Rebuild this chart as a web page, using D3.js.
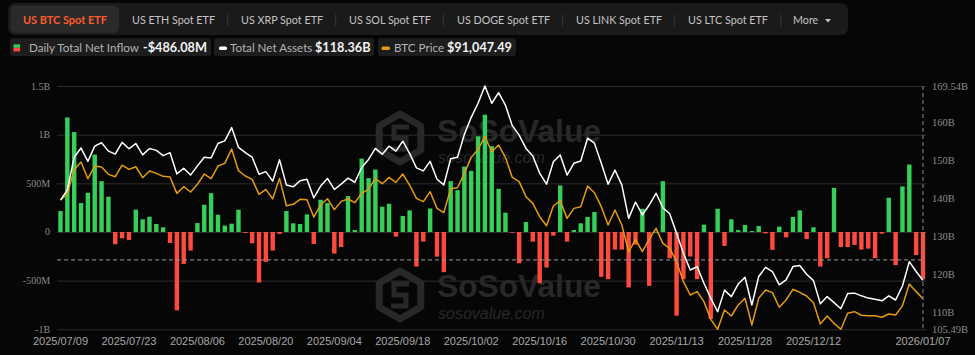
<!DOCTYPE html>
<html><head><meta charset="utf-8">
<script src="https://cdn.jsdelivr.net/npm/d3@7"></script>
<style>
html,body{margin:0;padding:0;background:#060606;}
svg{display:block;}
</style></head>
<body>
<svg id="c" width="975" height="355"></svg>
<script>
// ---------- DATA ----------
const dates = [
"2025/07/09","2025/07/10","2025/07/11","2025/07/14","2025/07/15","2025/07/16","2025/07/17","2025/07/18","2025/07/21","2025/07/22","2025/07/23","2025/07/24","2025/07/25","2025/07/28","2025/07/29","2025/07/30","2025/07/31",
"2025/08/01","2025/08/04","2025/08/05","2025/08/06","2025/08/07","2025/08/08","2025/08/11","2025/08/12","2025/08/13","2025/08/14","2025/08/15","2025/08/18","2025/08/19","2025/08/20","2025/08/21","2025/08/22","2025/08/25","2025/08/26","2025/08/27","2025/08/28","2025/08/29",
"2025/09/02","2025/09/03","2025/09/04","2025/09/05","2025/09/08","2025/09/09","2025/09/10","2025/09/11","2025/09/12","2025/09/15","2025/09/16","2025/09/17","2025/09/18","2025/09/19","2025/09/22","2025/09/23","2025/09/24","2025/09/25","2025/09/26","2025/09/29","2025/09/30",
"2025/10/01","2025/10/02","2025/10/03","2025/10/06","2025/10/07","2025/10/08","2025/10/09","2025/10/10","2025/10/13","2025/10/14","2025/10/15","2025/10/16","2025/10/17","2025/10/20","2025/10/21","2025/10/22","2025/10/23","2025/10/24","2025/10/27","2025/10/28","2025/10/29","2025/10/30","2025/10/31",
"2025/11/03","2025/11/04","2025/11/05","2025/11/06","2025/11/07","2025/11/10","2025/11/11","2025/11/12","2025/11/13","2025/11/14","2025/11/17","2025/11/18","2025/11/19","2025/11/20","2025/11/21","2025/11/24","2025/11/25","2025/11/26","2025/11/28",
"2025/12/01","2025/12/02","2025/12/03","2025/12/04","2025/12/05","2025/12/08","2025/12/09","2025/12/10","2025/12/11","2025/12/12","2025/12/15","2025/12/16","2025/12/17","2025/12/18","2025/12/19","2025/12/22","2025/12/23","2025/12/24","2025/12/26","2025/12/29","2025/12/30","2025/12/31",
"2026/01/02","2026/01/05","2026/01/06","2026/01/07"];

// Daily total net inflow, million USD
const netInflow = [
215,1177,1027,297,403,795,522,362,-126,-65,
-82,229,130,157,82,48,-113,-805,-328,-191,
92,280,399,177,65,85,229,-10,-116,-519,
-307,-191,-20,215,89,82,181,-123,331,297,
-222,-154,369,20,754,553,642,259,290,-48,
164,222,-355,-99,242,-253,-413,522,430,672,
628,983,1205,881,444,198,-7,-321,102,-99,
-526,-365,-38,478,-99,20,89,154,205,-461,
-485,-181,-181,-570,-130,239,-553,1,522,-270,
-860,-485,-252,-485,75,-894,239,-143,130,20,
72,10,61,-14,-184,55,-55,154,222,-72,
48,-355,-270,454,-154,-154,-133,-181,-171,-270,
-17,352,-341,468,693,-236,-486.08];

// Total net assets, billion USD
const netAssets = [
139.5,142.2,150.8,153.2,149.7,153.7,154.6,152.4,151.6,154.7,
153.0,154.4,151.4,153.1,152.6,151.2,152.0,146.4,147.9,146.1,
148.5,150.8,150.6,154.4,155.1,158.6,153.4,152.0,150.8,146.3,
147.0,144.5,150.1,143.5,143.0,144.6,145.0,140.1,143.2,145.2,
142.3,143.7,145.3,144.2,148.1,150.2,153.1,151.6,153.7,152.4,
155.0,151.8,148.0,147.2,149.7,145.0,143.5,150.4,150.8,156.8,
161.3,165.0,169.54,165.0,167.8,164.5,159.1,156.6,153.1,151.1,
146.6,143.7,149.6,151.4,146.1,149.2,149.8,155.8,154.5,149.2,
143.7,147.4,143.5,134.7,139.0,135.6,138.2,141.3,137.5,135.9,
130.8,125.5,121.1,122.0,117.6,113.7,110.1,115.8,114.1,117.4,
119.2,111.9,119.4,121.8,120.7,117.2,118.5,122.0,122.3,120.0,
118.3,112.2,114.1,112.5,110.9,114.9,115.0,114.3,113.7,113.4,
113.0,114.3,113.2,116.9,123.3,120.7,118.36];

// BTC price, USD
const btcPrice = [
112160,113450,118720,120290,116730,119440,119220,117660,117160,119650,
118720,119290,116940,118370,117870,117230,117080,113590,115020,113880,
115520,117730,116730,119440,120010,123070,118440,117300,116590,113380,
114450,112450,116800,110950,111240,112310,112240,108530,111100,112450,
110100,111880,112380,111590,113590,114520,116730,115660,117010,115940,
117730,115370,112520,111810,113950,110380,109460,114590,114800,117870,
121290,123000,125710,122500,123930,121290,117010,116090,112880,111450,
108600,106670,110880,112020,108240,110380,110740,115160,113730,110740,
106820,110030,106820,101040,103750,101110,103750,106100,102900,101830,
98970,94700,91840,92560,90420,86640,84500,88640,87350,89710,
91130,85430,91130,92910,92340,89210,90770,93060,92410,91630,
90200,85640,87350,85780,84500,87920,88280,87500,87420,87420,
87070,87780,87570,89560,94200,92560,91047.49];

const tabLabels = ["US BTC Spot ETF","US ETH Spot ETF","US XRP Spot ETF","US SOL Spot ETF","US DOGE Spot ETF","US LINK Spot ETF","US LTC Spot ETF","More"];
const leftTicks = [-1000,-500,0,500,1000,1500];
const leftTickLabels = ["-1B","-500M","0","500M","1B","1.5B"];
const rightTicks = [105.49,110,120,130,140,150,160,169.54];
const rightTickLabels = ["105.49B","110B","120B","130B","140B","150B","160B","169.54B"];
const xTickLabels = ["2025/07/09","2025/07/23","2025/08/06","2025/08/20","2025/09/04","2025/09/18","2025/10/02","2025/10/16","2025/10/30","2025/11/13","2025/11/28","2025/12/12","2026/01/07"];
const legendLabels = ["Daily Total Net Inflow","Total Net Assets","BTC Price"];
const legendValues = ["-$486.08M","$118.36B","$91,047.49"];
const crosshairInflow = -287;

// ---------- DRAW ----------
const svg = d3.select("#c");
const L = 57.08, R = 926.42, T = 86, B = 329.3;
const C = {green:"#35d05a", red:"#ff4a3f", white:"#ffffff", orange:"#e49b0f", grid:"#2e2e2e"};
const FONT = "Lato, 'Open Sans', sans-serif";

svg.append("rect").attr("width",975).attr("height",355).attr("fill","#060606");

// fit a font size so that a sample string has a target width
function fitSize(sample, weight, base, target, family){
  const t = svg.append("text").attr("font-family",family||FONT).attr("font-size",base).attr("font-weight",weight).text(sample);
  const w = t.node().getComputedTextLength();
  t.remove();
  return base * target / w;
}

// tab bar
const tabs = svg.append("g");
tabs.append("rect").attr("x",8).attr("y",3).attr("width",840).attr("height",32).attr("rx",7).attr("fill","#1a1a1a");
tabs.append("rect").attr("x",10.5).attr("y",5.5).attr("width",108.5).attr("height",27.5).attr("rx",5).attr("fill","#2a2a2a");
const tabStarts = [23,132,241,349,457,576,688,793];
const seps = [227.7,335.7,443.3,562.7,674.3,781];
seps.forEach(s=>tabs.append("line").attr("x1",s).attr("x2",s).attr("y1",14.5).attr("y2",26).attr("stroke","#383838").attr("stroke-width",1));
const tabFs = fitSize("US ETH Spot ETF",400,12,83);
const tabFsB = fitSize("US BTC Spot ETF",700,12,84);
tabLabels.forEach((t,i)=>{
  tabs.append("text").attr("x",tabStarts[i]).attr("y",20).attr("dy","0.35em")
    .attr("font-family",FONT)
    .attr("font-size",i===0?tabFsB:tabFs).attr("font-weight",i===0?700:400)
    .attr("fill",i===0?"#ff5a2c":"#c4c4c4").text(t);
});
tabs.append("path").attr("d","M825,19 L831,19 L828,22.5 Z").attr("fill","#c4c4c4");

// legend
const lg = svg.append("g").attr("font-family",FONT);
const pills = [[10,201],[214,160],[378,138]];
pills.forEach(p=>lg.append("rect").attr("x",p[0]).attr("y",38.3).attr("width",p[1]).attr("height",17.7).attr("rx",3).attr("fill","#1d1d1d"));
lg.append("rect").attr("x",13.5).attr("y",44.4).attr("width",6.6).attr("height",3.4).attr("fill",C.green);
lg.append("rect").attr("x",13.5).attr("y",47.8).attr("width",6.6).attr("height",3.6).attr("fill",C.red);
lg.append("rect").attr("x",219).attr("y",46.5).attr("width",8).attr("height",3.5).attr("rx",1.5).attr("fill",C.white);
lg.append("rect").attr("x",381.5).attr("y",46.5).attr("width",8.5).attr("height",3.5).attr("rx",1.5).attr("fill",C.orange);
const lx = [29,230,394], vx = [143,315,447];
const lgFs = fitSize(legendLabels[0],400,12,110);
const vFs = fitSize(legendValues[0],700,14,64);
legendLabels.forEach((t,i)=>{
  lg.append("text").attr("x",lx[i]).attr("y",47.5).attr("dy","0.35em").attr("font-size",lgFs).attr("fill","#b3b3b3").text(t);
  lg.append("text").attr("x",vx[i]).attr("y",47.3).attr("dy","0.35em").attr("font-size",vFs).attr("font-weight",700).attr("fill","#f2f2f2").text(legendValues[i]);
});

// scales
const x = d3.scaleBand().domain(dates).range([L,R]);
const bw = x.bandwidth();
const cx = d => x(d) + bw/2;
const yL = d3.scaleLinear().domain([-1000,1500]).range([B,T]);
const yR = d3.scaleLinear().domain([105.49,169.54]).range([B,T]);
const yP = d3.scaleLinear().domain([84500,136566]).range([B,T]);

// grid
svg.append("g").attr("transform",`translate(${L},0)`)
  .call(d3.axisLeft(yL).tickValues(leftTicks).tickSize(-(R-L)).tickFormat(""))
  .call(g=>g.select(".domain").remove())
  .call(g=>g.selectAll("line").attr("stroke",C.grid).attr("stroke-width",1));

// watermark
const WMF = "'Liberation Sans', Arial, sans-serif";
const bigFs = fitSize("SoSoValue",700,30,164,WMF);
function watermark(cyIcon, yBig, ySmall){
  const g = svg.append("g").attr("fill","#282828").attr("stroke","none");
  const r = 24;
  const pts = d3.range(6).map(k=>{const a=Math.PI/3*k - Math.PI/2; return [400+r*Math.cos(a), cyIcon+r*Math.sin(a)];});
  g.append("polygon").attr("points",pts.map(p=>p.join(",")).join(" ")).attr("fill","none").attr("stroke","#282828").attr("stroke-width",7).attr("stroke-linejoin","round");
  g.append("path").attr("d",`M${400+9},${cyIcon-11} L${400-6},${cyIcon-11} L${400-6},${cyIcon} L${400+6},${cyIcon} L${400+6},${cyIcon+11} L${400-9},${cyIcon+11}`)
    .attr("fill","none").attr("stroke","#282828").attr("stroke-width",5);
  g.append("text").attr("x",437).attr("y",yBig).attr("font-family",WMF).attr("font-weight",700).attr("font-size",bigFs).text("SoSoValue");
  g.append("text").attr("x",438).attr("y",ySmall).attr("font-family",WMF).attr("font-style","italic").attr("font-size",16).text("sosovalue.com");
}
watermark(138,141.5,163);
watermark(295,296.5,318.5);

// bars
svg.append("g").selectAll("rect").data(netInflow).join("rect")
  .attr("x",(d,i)=>cx(dates[i]) - 2.2)
  .attr("width",4.4)
  .attr("y",d=>yL(Math.max(0,d)))
  .attr("height",d=>Math.max(0.8,Math.abs(yL(d)-yL(0))))
  .attr("fill",d=>d>=0?C.green:C.red);

// lines
const lineA = d3.line().x((d,i)=>cx(dates[i])).y(d=>yR(d));
const lineP = d3.line().x((d,i)=>cx(dates[i])).y(d=>yP(d));
svg.append("path").datum(btcPrice).attr("d",lineP).attr("fill","none").attr("stroke",C.orange).attr("stroke-width",1.5).attr("stroke-linejoin","round");
svg.append("path").datum(netAssets).attr("d",lineA).attr("fill","none").attr("stroke",C.white).attr("stroke-width",1.5).attr("stroke-linejoin","round");

// crosshair
const lastX = cx(dates[dates.length-1]);
svg.append("line").attr("x1",L).attr("x2",lastX).attr("y1",yL(crosshairInflow)).attr("y2",yL(crosshairInflow))
  .attr("stroke","#9a9a9a").attr("stroke-width",1).attr("stroke-dasharray","4,3");
svg.append("line").attr("x1",lastX).attr("x2",lastX).attr("y1",T).attr("y2",B)
  .attr("stroke","#8a8a8a").attr("stroke-width",1).attr("stroke-dasharray","4,3");

// axes
svg.append("g").attr("transform",`translate(${L},0)`)
  .call(d3.axisLeft(yL).tickValues(leftTicks).tickSize(0).tickPadding(7).tickFormat((d,i)=>leftTickLabels[i]))
  .call(g=>g.select(".domain").remove())
  .call(g=>g.selectAll("text").attr("dy","0.3em").attr("fill","#8a8a8a").attr("font-family","'Liberation Serif', serif").attr("font-size",10));
svg.append("g").attr("transform",`translate(${R},0)`)
  .call(d3.axisRight(yR).tickValues(rightTicks).tickSize(0).tickPadding(5.6).tickFormat((d,i)=>rightTickLabels[i]))
  .call(g=>g.select(".domain").remove())
  .call(g=>g.selectAll("text").attr("fill","#8a8a8a").attr("font-family","'Liberation Serif', serif").attr("font-size",10.5));
svg.append("g").attr("transform",`translate(0,${B})`)
  .call(d3.axisBottom(x).tickValues(xTickLabels).tickSize(0).tickPadding(7.5))
  .call(g=>g.select(".domain").remove())
  .call(g=>g.selectAll("text").attr("fill","#a6a6a6").attr("font-family","'Liberation Sans', Arial, sans-serif").attr("font-size",11));
</script>
</body></html>
